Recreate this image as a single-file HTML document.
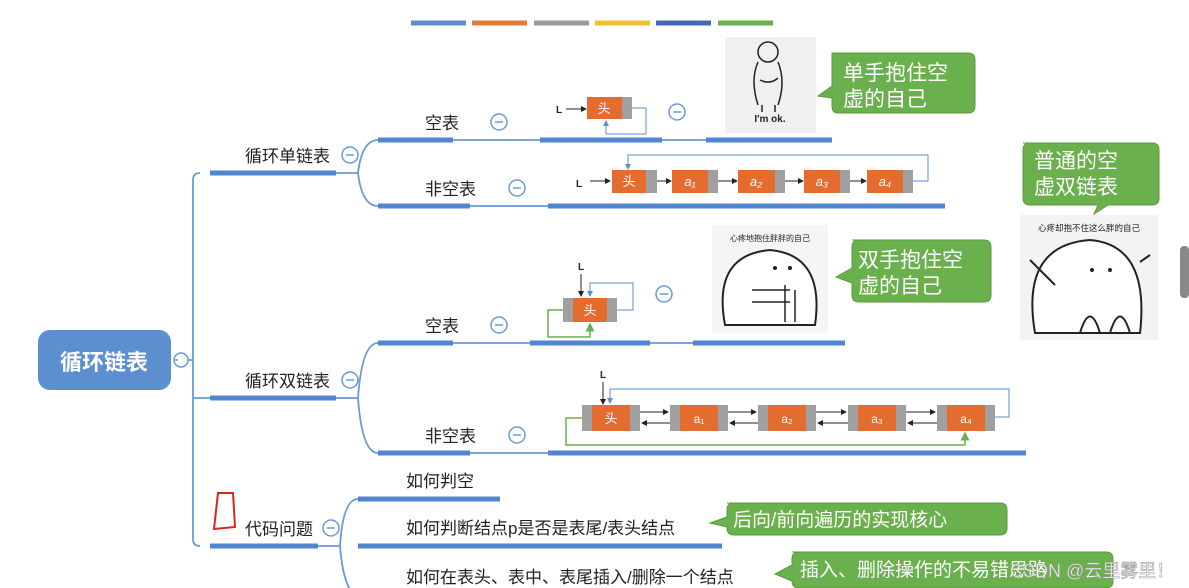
<!DOCTYPE html>
<html><head><meta charset="utf-8"><style>
html,body{margin:0;padding:0;background:#fff;}
svg{display:block;font-family:"Liberation Sans","Noto Sans CJK SC",sans-serif;}
</style></head><body>
<svg width="1189" height="588" viewBox="0 0 1189 588" xmlns="http://www.w3.org/2000/svg">
<defs>
<marker id="ab" markerWidth="6" markerHeight="6" refX="5" refY="3" orient="auto"><path d="M0,0 L6,3 L0,6z" fill="#222"/></marker>
<marker id="abl" markerWidth="6" markerHeight="6" refX="5" refY="3" orient="auto"><path d="M0,0 L6,3 L0,6z" fill="#5b8fd0"/></marker>
<marker id="ag" markerWidth="6" markerHeight="6" refX="5" refY="3" orient="auto"><path d="M0,0 L6,3 L0,6z" fill="#6ab04c"/></marker>
</defs>
<!-- top color bar -->
<g stroke-width="5">
<line x1="411" y1="23" x2="466" y2="23" stroke="#5b8fd0"/>
<line x1="472" y1="23" x2="527" y2="23" stroke="#e07a3c"/>
<line x1="534" y1="23" x2="589" y2="23" stroke="#9a9a9a"/>
<line x1="595" y1="23" x2="650" y2="23" stroke="#f0c030"/>
<line x1="656" y1="23" x2="711" y2="23" stroke="#4468b0"/>
<line x1="718" y1="23" x2="773" y2="23" stroke="#6ab04c"/>
</g>
<!-- root -->
<rect x="38" y="330" width="133" height="60" rx="12" fill="#5b8fd0"/>
<text x="104" y="370" font-size="22" font-weight="bold" fill="#fff" text-anchor="middle">循环链表</text>
<g fill="#fff" stroke="#6a9ad6" stroke-width="1.5">
<circle cx="181" cy="360" r="7"/><circle cx="350" cy="155" r="8"/><circle cx="350" cy="380" r="8"/><circle cx="331" cy="528" r="8"/>
<circle cx="499" cy="122" r="8"/><circle cx="517" cy="188" r="8"/><circle cx="499" cy="325" r="8"/><circle cx="517" cy="435" r="8"/>
<circle cx="677" cy="112" r="8"/><circle cx="664" cy="294" r="8"/>
</g>
<g stroke="#6a9ad6" stroke-width="1.5">
<line x1="175" y1="360" x2="178" y2="360"/>
<line x1="346" y1="155" x2="354" y2="155"/><line x1="346" y1="380" x2="354" y2="380"/><line x1="327" y1="528" x2="335" y2="528"/>
<line x1="495" y1="122" x2="503" y2="122"/><line x1="513" y1="188" x2="521" y2="188"/><line x1="495" y1="325" x2="503" y2="325"/><line x1="513" y1="435" x2="521" y2="435"/>
<line x1="673" y1="112" x2="681" y2="112"/><line x1="660" y1="294" x2="668" y2="294"/>
</g>
<!-- trunk & connectors -->
<g fill="none" stroke="#6a9ad6" stroke-width="1.8">
<path d="M188,360 H193 M200,173 Q193,173 193,180 V539 Q193,546 200,546 M193,398 H210"/>
<path d="M336,173 H358 M358,173 Q362,140 378,140 M358,173 Q362,206 378,206"/>
<path d="M336,398 H358 M358,398 Q362,343 378,343 M358,398 Q362,453 378,453"/>
<path d="M318,546 H340 M340,546 Q343,499 358,499 M340,546 Q343,588 358,600"/>
<path d="M453,140 H540 M662,140 H706 M470,206 H548 M453,343 H530 M650,343 H693 M470,453 H548"/>
</g>
<g stroke="#4f86cf" stroke-width="5">
<line x1="210" y1="173" x2="336" y2="173"/><line x1="210" y1="398" x2="336" y2="398"/><line x1="210" y1="546" x2="318" y2="546"/>
<line x1="378" y1="140" x2="453" y2="140"/><line x1="540" y1="140" x2="662" y2="140"/><line x1="706" y1="140" x2="832" y2="140"/>
<line x1="378" y1="206" x2="470" y2="206"/><line x1="548" y1="206" x2="945" y2="206"/>
<line x1="378" y1="343" x2="453" y2="343"/><line x1="530" y1="343" x2="650" y2="343"/><line x1="693" y1="343" x2="845" y2="343"/>
<line x1="378" y1="453" x2="470" y2="453"/><line x1="548" y1="453" x2="1026" y2="453"/>
<line x1="358" y1="499" x2="500" y2="499"/><line x1="358" y1="546" x2="722" y2="546"/>
</g>
<g font-size="17" fill="#222">
<text x="245" y="162">循环单链表</text><text x="245" y="387">循环双链表</text><text x="245" y="535">代码问题</text>
<text x="425" y="129">空表</text><text x="425" y="195">非空表</text><text x="425" y="332">空表</text><text x="425" y="442">非空表</text>
<text x="406" y="487">如何判空</text><text x="406" y="534">如何判断结点p是否是表尾/表头结点</text><text x="406" y="583">如何在表头、表中、表尾插入/删除一个结点</text>
</g>
<path d="M218,493 L233,493 L235,527 L214,529 Z" fill="none" stroke="#d22" stroke-width="2"/>
<!-- single empty -->
<text x="556" y="113" font-size="10" font-weight="bold" fill="#222">L</text>
<line x1="566" y1="109" x2="586" y2="109" stroke="#222" marker-end="url(#ab)"/>
<rect x="587" y="97" width="35" height="22" fill="#e36c2e"/><rect x="622" y="97" width="10" height="22" fill="#a0a0a0"/>
<text x="604" y="113" font-size="13" fill="#fff" text-anchor="middle">头</text>
<path d="M632,108 H646 V134 H606 V121" fill="none" stroke="#5b8fd0" marker-end="url(#abl)"/>
<!-- single nonempty -->
<text x="576" y="187" font-size="10" font-weight="bold" fill="#222">L</text>
<line x1="590" y1="181" x2="610" y2="181" stroke="#222" marker-end="url(#ab)"/>
<g font-size="13" fill="#fff" text-anchor="middle" font-style="italic">
<rect x="612" y="170" width="34" height="23" fill="#e36c2e"/><rect x="646" y="170" width="11" height="23" fill="#a0a0a0"/><text x="629" y="186" font-style="normal">头</text>
<rect x="672" y="170" width="36" height="23" fill="#e36c2e"/><rect x="708" y="170" width="10" height="23" fill="#a0a0a0"/><text x="690" y="186">a₁</text>
<rect x="738" y="170" width="37" height="23" fill="#e36c2e"/><rect x="775" y="170" width="10" height="23" fill="#a0a0a0"/><text x="756" y="186">a₂</text>
<rect x="804" y="170" width="36" height="23" fill="#e36c2e"/><rect x="840" y="170" width="10" height="23" fill="#a0a0a0"/><text x="822" y="186">a₃</text>
<rect x="867" y="170" width="36" height="23" fill="#e36c2e"/><rect x="903" y="170" width="10" height="23" fill="#a0a0a0"/><text x="885" y="186">a₄</text>
</g>
<g stroke="#222" marker-end="url(#ab)"><line x1="657" y1="181" x2="671" y2="181"/><line x1="718" y1="181" x2="737" y2="181"/><line x1="785" y1="181" x2="803" y2="181"/><line x1="850" y1="181" x2="866" y2="181"/></g>
<path d="M913,181 H928 V155 H628 V169" fill="none" stroke="#5b8fd0" marker-end="url(#abl)"/>
<!-- double empty -->
<text x="578" y="270" font-size="10" font-weight="bold" fill="#222">L</text>
<line x1="581" y1="274" x2="581" y2="296" stroke="#222" marker-end="url(#ab)"/>
<rect x="563" y="298" width="54" height="24" fill="#a0a0a0"/><rect x="573" y="298" width="34" height="24" fill="#e36c2e"/>
<text x="590" y="315" font-size="13" fill="#fff" text-anchor="middle">头</text>
<path d="M617,310 H633 V283 H590 V296" fill="none" stroke="#5b8fd0" marker-end="url(#abl)"/>
<path d="M563,310 H548 V337 H590 V324" fill="none" stroke="#6ab04c" stroke-width="1.5" marker-end="url(#ag)"/>
<!-- double nonempty -->
<text x="600" y="378" font-size="10" font-weight="bold" fill="#222">L</text>
<line x1="603" y1="382" x2="603" y2="404" stroke="#222" marker-end="url(#ab)"/>
<g font-size="12" fill="#fff" text-anchor="middle">
<rect x="582" y="405" width="58" height="26" fill="#a0a0a0"/><rect x="592" y="405" width="38" height="26" fill="#e36c2e"/><text x="611" y="423" font-size="13">头</text>
<rect x="670" y="405" width="58" height="26" fill="#a0a0a0"/><rect x="680" y="405" width="38" height="26" fill="#e36c2e"/><text x="699" y="423">a₁</text>
<rect x="758" y="405" width="58" height="26" fill="#a0a0a0"/><rect x="768" y="405" width="38" height="26" fill="#e36c2e"/><text x="787" y="423">a₂</text>
<rect x="848" y="405" width="58" height="26" fill="#a0a0a0"/><rect x="858" y="405" width="38" height="26" fill="#e36c2e"/><text x="877" y="423">a₃</text>
<rect x="937" y="405" width="58" height="26" fill="#a0a0a0"/><rect x="947" y="405" width="38" height="26" fill="#e36c2e"/><text x="966" y="423">a₄</text>
</g>
<g stroke="#222" marker-end="url(#ab)">
<line x1="640" y1="412" x2="668" y2="412"/><line x1="670" y1="423" x2="642" y2="423"/>
<line x1="728" y1="412" x2="756" y2="412"/><line x1="758" y1="423" x2="730" y2="423"/>
<line x1="816" y1="412" x2="846" y2="412"/><line x1="848" y1="423" x2="818" y2="423"/>
<line x1="906" y1="412" x2="935" y2="412"/><line x1="937" y1="423" x2="908" y2="423"/>
</g>
<path d="M995,417 H1009 V389 H610 V403" fill="none" stroke="#5b8fd0" marker-end="url(#abl)"/>
<path d="M582,418 H566 V445 H965 V433" fill="none" stroke="#6ab04c" stroke-width="1.5" marker-end="url(#ag)"/>
<!-- images -->
<rect x="725" y="37" width="91" height="96" fill="#f0f0f0"/>
<g fill="none" stroke="#222" stroke-width="1.5">
<circle cx="768" cy="52" r="10"/><path d="M758,62 Q750,80 758,105 M778,62 Q786,82 778,105 M760,80 Q770,85 778,78 M762,105 V112 M775,105 V112"/>
</g>
<text x="770" y="122" font-size="10" font-weight="bold" fill="#222" text-anchor="middle">I'm ok.</text>
<rect x="712" y="225" width="116" height="108" fill="#f5f5f5"/>
<text x="770" y="241" font-size="8" fill="#222" text-anchor="middle">心疼地抱住胖胖的自己</text>
<path d="M725,325 Q712,255 770,250 Q825,255 815,325 Z" fill="#fff" stroke="#222" stroke-width="2"/>
<path d="M752,290 H790 M752,302 H790 M785,285 V322 M795,290 V322" stroke="#222" stroke-width="1.5" fill="none"/>
<rect x="1020" y="215" width="138" height="125" fill="#f3f3f3"/>
<text x="1089" y="231" font-size="8.5" fill="#222" text-anchor="middle">心疼却抱不住这么胖的自己</text>
<path d="M1035,333 Q1020,245 1090,240 Q1150,245 1140,333 Z" fill="#fff" stroke="#222" stroke-width="2"/>
<path d="M1030,260 L1055,285 M1140,262 L1150,255 M1080,333 Q1090,300 1100,333 M1110,333 Q1120,300 1130,333" stroke="#222" stroke-width="2" fill="none"/>
<g fill="#222"><circle cx="1092" cy="270" r="2"/><circle cx="1110" cy="270" r="2"/><circle cx="775" cy="268" r="2"/><circle cx="790" cy="268" r="2"/></g>
<!-- bubbles -->
<g fill="#6ab04c" stroke="#5a9a3e">
<path d="M832,53 H968 Q975,53 975,60 V106 Q975,113 968,113 H838 Q832,113 832,106 V98 L818,96 L832,86 Z"/>
<path d="M1023,143 H1152 Q1159,143 1159,150 V198 Q1159,205 1152,205 H1108 L1094,214 L1098,205 H1030 Q1023,205 1023,198 V150 Q1023,143 1030,143 Z"/>
<path d="M852,240 H984 Q991,240 991,247 V295 Q991,302 984,302 H859 Q852,302 852,295 V283 L836,277 L852,268 V247 Q852,240 859,240 Z"/>
<path d="M727,503 H1000 Q1007,503 1007,510 V528 Q1007,535 1000,535 H734 Q727,535 727,528 V527 L710,523 L727,517 V510 Q727,503 734,503 Z"/>
<path d="M792,552 H1106 Q1113,552 1113,559 V581 Q1113,588 1106,588 H799 Q792,588 792,581 L775,574 L792,565 V559 Q792,552 799,552 Z"/>
</g>
<g font-size="21" fill="#fff">
<text x="843" y="80">单手抱住空</text><text x="843" y="106">虚的自己</text>
<text x="1034" y="168">普通的空</text><text x="1034" y="194">虚双链表</text>
<text x="858" y="267">双手抱住空</text><text x="858" y="293">虚的自己</text>
<text x="733" y="526" font-size="19">后向/前向遍历的实现核心</text>
<text x="800" y="576" font-size="19">插入、删除操作的不易错思路</text>
</g>
<text x="1010" y="577" font-size="18" fill="#fff" stroke="#999" stroke-width="0.6">CSDN @云里雾里！</text>
<rect x="1180" y="246" width="9" height="52" rx="4" fill="#888"/>
</svg>
</body></html>
